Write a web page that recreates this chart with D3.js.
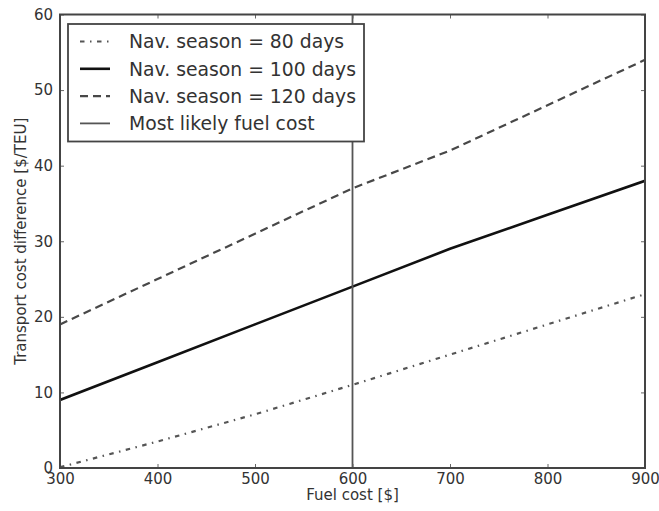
<!DOCTYPE html>
<html>
<head>
<meta charset="utf-8">
<script src="https://cdn.jsdelivr.net/npm/d3@7"></script>
<style>
  body { margin: 0; background: #fff; }
  text { font-family: "DejaVu Sans", sans-serif; fill: #333; }
</style>
</head>
<body>
<div id="chart"></div>
<script>
// Data
const fuelCost = [300, 400, 500, 600, 700, 800, 900];
const season80 = [0.1, 3.5, 7.1, 11, 15, 19, 23];
const season100 = [9, 14, 19, 24, 29, 33.5, 38];
const season120 = [19, 25, 31, 37, 42, 48, 54];
const mostLikelyFuel = 600;
const xTicks = [300, 400, 500, 600, 700, 800, 900];
const yTicks = [0, 10, 20, 30, 40, 50, 60];

const width = 659;
const height = 511;
const margin = { top: 14.5, right: 14, bottom: 43, left: 60 };

const svg = d3.select("#chart").append("svg")
    .attr("width", width)
    .attr("height", height);

const x = d3.scaleLinear()
    .domain([300, 900])
    .range([margin.left, width - margin.right]);

const y = d3.scaleLinear()
    .domain([0, 60])
    .range([height - margin.bottom, margin.top]);

const line = d3.line()
    .x(d => x(d[0]))
    .y(d => y(d[1]));

const series = [
  { label: "Nav. season = 80 days", values: season80, stroke: "#555", width: 2.2, dash: "4.5,5.5,1.5,5.5" },
  { label: "Nav. season = 100 days", values: season100, stroke: "#111", width: 2.6, dash: null },
  { label: "Nav. season = 120 days", values: season120, stroke: "#484848", width: 2.2, dash: "8,5" }
];

// Clip to plot area
svg.append("clipPath").attr("id", "plot")
  .append("rect")
    .attr("x", x(300)).attr("y", y(60))
    .attr("width", x(900) - x(300)).attr("height", y(0) - y(60));

const plot = svg.append("g").attr("clip-path", "url(#plot)");

// Lines
series.forEach(s => {
  plot.append("path")
      .datum(fuelCost.map((f, i) => [f, s.values[i]]))
      .attr("fill", "none")
      .attr("stroke", s.stroke)
      .attr("stroke-width", s.width)
      .attr("stroke-dasharray", s.dash)
      .attr("d", line);
});

// Most likely fuel cost
plot.append("line")
    .attr("x1", x(mostLikelyFuel)).attr("x2", x(mostLikelyFuel))
    .attr("y1", y(0)).attr("y2", y(60))
    .attr("stroke", "#555")
    .attr("stroke-width", 1.8);

// Axes with inward ticks on all four sides
const tickLen = 4;
const axisStyle = g => {
  g.select(".domain").remove();
  g.selectAll(".tick line").attr("stroke", "#666").attr("stroke-width", 1);
  g.selectAll(".tick text").style("font-size", "15px").attr("fill", "#333");
};

svg.append("g")
    .attr("transform", `translate(0,${y(0)})`)
    .call(d3.axisBottom(x).tickValues(xTicks).tickSize(-tickLen).tickPadding(5).tickFormat(d3.format("d")))
    .call(axisStyle);

svg.append("g")
    .attr("transform", `translate(0,${y(60)})`)
    .call(d3.axisTop(x).tickValues(xTicks).tickSize(-tickLen).tickFormat(""))
    .call(axisStyle);

svg.append("g")
    .attr("transform", `translate(${x(300)},0)`)
    .call(d3.axisLeft(y).tickValues(yTicks).tickSize(-tickLen).tickPadding(7).tickFormat(d3.format("d")))
    .call(axisStyle);

svg.append("g")
    .attr("transform", `translate(${x(900)},0)`)
    .call(d3.axisRight(y).tickValues(yTicks).tickSize(-tickLen).tickFormat(""))
    .call(axisStyle);

// Frame
svg.append("rect")
    .attr("x", x(300)).attr("y", y(60))
    .attr("width", x(900) - x(300)).attr("height", y(0) - y(60))
    .attr("fill", "none")
    .attr("stroke", "#444")
    .attr("stroke-width", 2);

// Axis labels
svg.append("text")
    .attr("x", (x(300) + x(900)) / 2)
    .attr("y", 500)
    .attr("text-anchor", "middle")
    .style("font-size", "15px")
    .text("Fuel cost [$]");

svg.append("text")
    .attr("transform", `translate(26,${(y(0) + y(60)) / 2}) rotate(-90)`)
    .attr("text-anchor", "middle")
    .style("font-size", "15px")
    .text("Transport cost difference [$/TEU]");

// Legend
const legendItems = series.concat([
  { label: "Most likely fuel cost", stroke: "#555", width: 1.8, dash: null }
]);

const legend = svg.append("g");
legend.append("rect")
    .attr("x", 68).attr("y", 24)
    .attr("width", 296).attr("height", 117.5)
    .attr("fill", "#fff")
    .attr("stroke", "#444")
    .attr("stroke-width", 1.8);

legendItems.forEach((s, i) => {
  const cy = 41.5 + i * 27.3;
  legend.append("line")
      .attr("x1", 80).attr("x2", 110)
      .attr("y1", cy).attr("y2", cy)
      .attr("stroke", s.stroke)
      .attr("stroke-width", s.width)
      .attr("stroke-dasharray", s.dash);
  legend.append("text")
      .attr("x", 129)
      .attr("y", cy)
      .attr("dy", "0.36em")
      .style("font-size", "18.8px")
      .text(s.label);
});
</script>
</body>
</html>
